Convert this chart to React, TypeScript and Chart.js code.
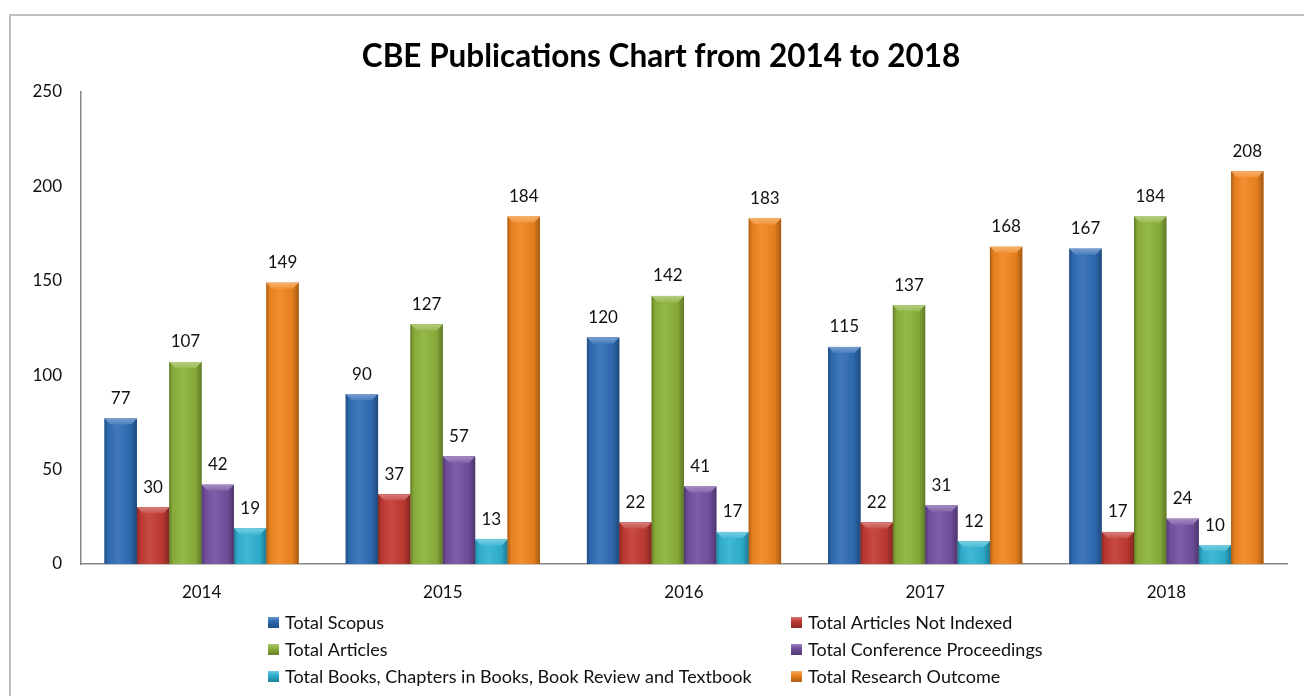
import React, { useEffect, useRef } from "react";
import { Chart, registerables } from "chart.js";

Chart.register(...registerables);

const chartTitle = "CBE Publications Chart from 2014 to 2018";
const years = ["2014", "2015", "2016", "2017", "2018"];
const seriesNames = [
  "Total Scopus",
  "Total Articles Not Indexed",
  "Total Articles",
  "Total Conference Proceedings",
  "Total Books, Chapters in Books, Book Review and Textbook",
  "Total Research Outcome",
];
const totalScopus = [77, 90, 120, 115, 167];
const totalNotIndexed = [30, 37, 22, 22, 17];
const totalArticles = [107, 127, 142, 137, 184];
const totalConference = [42, 57, 41, 31, 24];
const totalBooks = [19, 13, 17, 12, 10];
const totalResearch = [149, 184, 183, 168, 208];
const seriesColors = ["#2F6CB5", "#C23A32", "#8CB23B", "#7350A0", "#2FB2D2", "#F0851F"];
const yMin = 0;
const yMax = 250;
const yStep = 50;

const FONT = "Lato, 'Open Sans', sans-serif";

function shade(hex: string, f: number): string {
  const n = parseInt(hex.slice(1), 16);
  let r = (n >> 16) & 255, g = (n >> 8) & 255, b = n & 255;
  if (f < 1) {
    r *= f; g *= f; b *= f;
  } else {
    const t = f - 1;
    r = r + (255 - r) * t; g = g + (255 - g) * t; b = b + (255 - b) * t;
  }
  return `rgb(${Math.round(r)},${Math.round(g)},${Math.round(b)})`;
}

function paintBar(ctx: CanvasRenderingContext2D, left: number, right: number, top: number, bottom: number, color: string) {
  const w = right - left;
  if (w <= 0 || bottom - top <= 0) return;
  const g = ctx.createLinearGradient(left, 0, right, 0);
  g.addColorStop(0, shade(color, 0.7));
  g.addColorStop(0.1, shade(color, 0.95));
  g.addColorStop(0.4, shade(color, 1.08));
  g.addColorStop(0.8, shade(color, 0.95));
  g.addColorStop(1, shade(color, 0.68));
  ctx.fillStyle = g;
  ctx.fillRect(left, top, w, bottom - top);
  const bh = Math.min(6, (bottom - top) / 2);
  const tg = ctx.createLinearGradient(0, top, 0, top + bh);
  tg.addColorStop(0, shade(color, 1.35));
  tg.addColorStop(1, shade(color, 1.12));
  ctx.fillStyle = tg;
  ctx.beginPath();
  ctx.moveTo(left, top);
  ctx.lineTo(right, top);
  ctx.lineTo(right - bh, top + bh);
  ctx.lineTo(left + bh, top + bh);
  ctx.closePath();
  ctx.fill();
}

const framePlugin = {
  id: "frame",
  beforeDraw(chart: any) {
    const ctx = chart.ctx;
    ctx.save();
    ctx.fillStyle = "#ffffff";
    ctx.fillRect(0, 0, chart.width, chart.height);
    ctx.strokeStyle = "#BFBFBF";
    ctx.lineWidth = 2;
    ctx.strokeRect(10, 15, chart.width + 20, chart.height + 20);
    ctx.fillStyle = "#000000";
    ctx.font = `bold 31.5px ${FONT}`;
    ctx.textAlign = "center";
    ctx.textBaseline = "middle";
    ctx.fillText(chartTitle, 661, 57);
    ctx.restore();
  },
};

const barStylePlugin = {
  id: "barStyle",
  afterDatasetsDraw(chart: any) {
    const ctx = chart.ctx;
    ctx.save();
    chart.data.datasets.forEach((ds: any, di: number) => {
      const meta = chart.getDatasetMeta(di);
      meta.data.forEach((el: any) => {
        const p = el.getProps(["x", "y", "base", "width"], true);
        paintBar(ctx, p.x - p.width / 2, p.x + p.width / 2, p.y, p.base, seriesColors[di]);
      });
    });
    ctx.font = `17px ${FONT}`;
    ctx.fillStyle = "#111111";
    ctx.textAlign = "center";
    ctx.textBaseline = "middle";
    chart.data.datasets.forEach((ds: any, di: number) => {
      const meta = chart.getDatasetMeta(di);
      meta.data.forEach((el: any, i: number) => {
        const p = el.getProps(["x", "y"], true);
        ctx.fillText(String(ds.data[i]), p.x, p.y - 20);
      });
    });
    ctx.restore();
  },
};

const legendPlugin = {
  id: "gridLegend",
  afterDraw(chart: any) {
    const ctx = chart.ctx;
    ctx.save();
    const colX = [268, 791];
    const rowY = [622, 649, 676];
    ctx.font = `18px ${FONT}`;
    ctx.textBaseline = "middle";
    ctx.textAlign = "left";
    chart.data.datasets.forEach((ds: any, i: number) => {
      const x = colX[i % 2];
      const y = rowY[Math.floor(i / 2)];
      const c = seriesColors[i];
      const g = ctx.createLinearGradient(0, y - 5, 0, y + 5);
      g.addColorStop(0, shade(c, 1.3));
      g.addColorStop(0.4, c);
      g.addColorStop(1, shade(c, 0.75));
      ctx.fillStyle = g;
      ctx.fillRect(x, y - 5, 11, 11);
      ctx.fillStyle = "#111111";
      ctx.fillText(ds.label, x + 17, y + 1);
    });
    ctx.restore();
  },
};

export default function App() {
  const ref = useRef<HTMLCanvasElement | null>(null);

  useEffect(() => {
    document.body.style.margin = "0";
    if (!ref.current) return;
    const allSeries = [totalScopus, totalNotIndexed, totalArticles, totalConference, totalBooks, totalResearch];
    const chart = new Chart(ref.current, {
      type: "bar",
      data: {
        labels: years,
        datasets: allSeries.map((values, i) => ({
          label: seriesNames[i],
          data: values,
          backgroundColor: seriesColors[i],
          borderWidth: 0,
          categoryPercentage: 0.805,
          barPercentage: 1.0,
        })),
      },
      options: {
        responsive: false,
        animation: false,
        devicePixelRatio: 1,
        layout: { padding: { top: 92, bottom: 92, left: 0, right: 17 } },
        plugins: {
          legend: { display: false },
          title: { display: false },
          tooltip: { enabled: false },
        },
        scales: {
          x: {
            grid: { display: false, drawTicks: false },
            border: { display: true, color: "#868686", width: 1.5 },
            ticks: { padding: 18, color: "#111111", font: { family: FONT, size: 17 } },
            afterFit: (s: any) => { s.height = 40; },
          },
          y: {
            min: yMin,
            max: yMax,
            grid: { display: false, drawTicks: false },
            border: { display: true, color: "#868686", width: 1.5 },
            ticks: { stepSize: yStep, padding: 19, color: "#111111", font: { family: FONT, size: 17 } },
            afterFit: (s: any) => { s.width = 81; },
          },
        },
      },
      plugins: [framePlugin, barStylePlugin, legendPlugin],
    });
    return () => chart.destroy();
  }, []);

  return (
    <div style={{ width: 1304, height: 696, overflow: "hidden" }}>
      <canvas ref={ref} width={1304} height={696} style={{ display: "block" }} />
    </div>
  );
}
